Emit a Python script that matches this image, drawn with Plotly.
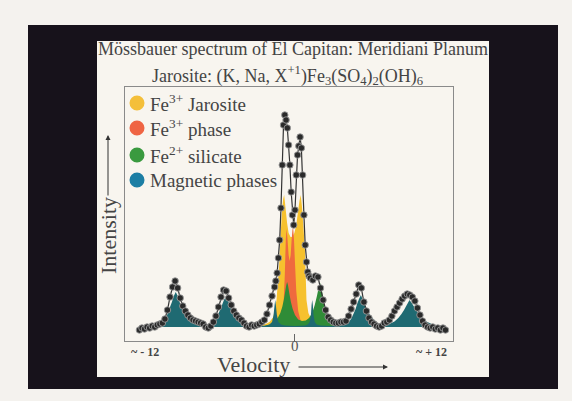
import plotly.graph_objects as go

# ---------------- data (velocity in mm/s, intensity in arbitrary units) -------------
vel = [-12.2, -12.0, -11.8, -11.6, -11.4, -11.2, -11.0, -10.8, -10.6, -10.4, -10.2, -10.0,
       -9.8, -9.6, -9.4, -9.2, -9.0, -8.8, -8.6, -8.4, -8.2, -8.0, -7.8, -7.6, -7.4, -7.2,
       -7.0, -6.8, -6.6, -6.4, -6.2, -6.0, -5.8, -5.6, -5.4, -5.2, -5.0, -4.8, -4.6, -4.4,
       -4.2, -4.0, -3.8, -3.6, -3.4, -3.2, -3.0, -2.8, -2.6, -2.4, -2.2, -2.0, -1.8, -1.6,
       -1.5, -1.4, -1.3, -1.2, -1.1, -1.0, -0.9, -0.8, -0.7, -0.6, -0.5, -0.4, -0.3, -0.2,
       -0.1, 0.0, 0.1, 0.2, 0.3, 0.4, 0.5, 0.6, 0.7, 0.8, 0.9, 1.0, 1.1, 1.2, 1.4, 1.6,
       1.8, 2.0, 2.2, 2.4, 2.6, 2.8, 3.0, 3.2, 3.4, 3.6, 3.8, 4.0, 4.2, 4.4, 4.6, 4.8,
       5.0, 5.2, 5.4, 5.6, 5.8, 6.0, 6.2, 6.4, 6.6, 6.8, 7.0, 7.2, 7.4, 7.6, 7.8, 8.0,
       8.2, 8.4, 8.6, 8.8, 9.0, 9.2, 9.4, 9.6, 9.8, 10.0, 10.2, 10.4, 10.6, 10.8, 11.0,
       11.2, 11.4, 11.6, 11.8]
counts = [-1.5, -0.5, -1.0, 0.0, -0.5, 0.5, 0.0, 1.0, 1.5, 2.0, 4.0, 8.5,
          15.0, 20.0, 23.0, 19.5, 14.5, 10.5, 8.0, 6.0, 4.5, 3.5, 3.0, 2.5, 2.0, 1.5,
          0.0, -0.5, 0.5, 2.5, 5.5, 10.0, 15.0, 18.5, 18.0, 14.5, 11.0, 8.0, 6.0, 4.5,
          3.5, 2.0, 0.5, 0.0, 1.0, 0.5, 1.0, 1.5, 2.5, 3.5, 6.5, 11.0, 15.5, 20.0,
          23.0, 27.0, 34.5, 43.5, 59.5, 81.0, 101.0, 106.0, 103.5, 99.5, 91.0, 81.0, 67.5, 56.0,
          51.0, 58.5, 76.0, 86.0, 90.5, 95.0, 89.5, 76.0, 56.0, 41.0, 32.5, 27.5, 25.5, 24.5, 23.5, 25.5,
          25.0, 19.5, 13.5, 8.5, 5.0, 3.5, 2.5, 2.0, 2.0, 2.5, 2.5, 3.0, 5.5, 9.0, 12.5, 16.5,
          21.0, 19.5, 12.5, 8.0, 4.5, 2.5, 1.5, 0.5, 0.0, 0.5, 2.0, 2.5, 3.5, 5.5, 8.0, 10.0,
          12.0, 14.0, 15.5, 16.5, 16.0, 15.0, 13.0, 9.5, 6.0, 3.0, 1.0, 0.0, -0.5, 0.0, -1.0,
          -0.5, -1.5, -0.5, -1.5]

# Fe3+ jarosite doublet
jar_x = [-3.5, -2.8, -2.3, -2.0, -1.7, -1.45, -1.25, -1.12, -1.02, -0.93, -0.85, -0.75, -0.62,
         -0.5, -0.35, -0.2, -0.05, 0.1, 0.22, 0.35, 0.45, 0.55, 0.66, 0.78, 0.9, 1.05, 1.3,
         1.7, 2.3, 3.2]
jar_y = [0.3, 0.8, 1.5, 2.5, 5.0, 13.5, 30.0, 47.0, 58.0, 64.0, 66.0, 60.0, 52.0,
         47.0, 45.0, 45.0, 47.0, 51.0, 57.0, 63.0, 66.0, 60.0, 50.0, 38.5, 13.5, 7.0, 3.5,
         2.0, 1.0, 0.4]

# Fe3+ phase doublet
ph3_x = [-1.4, -1.15, -1.0, -0.9, -0.8, -0.72, -0.66, -0.6, -0.5, -0.42, -0.34, -0.26, -0.2,
         -0.15, -0.08, 0.0, 0.1, 0.25, 0.45, 0.8, 1.1]
ph3_y = [0.4, 2.0, 5.0, 11.0, 26.0, 44.0, 49.0, 45.0, 36.0, 33.0, 36.0, 44.0, 48.5,
         50.0, 44.0, 32.0, 18.0, 8.0, 3.0, 1.0, 0.3]

# Fe2+ silicate doublet
sil_x = [-2.6, -2.2, -1.9, -1.6, -1.35, -1.15, -1.0, -0.88, -0.76, -0.68, -0.62, -0.55, -0.45,
         -0.32, -0.18, 0.0, 0.25, 0.55, 0.85, 1.1, 1.35, 1.55, 1.72, 1.85, 1.97, 2.08, 2.22,
         2.4, 2.6, 2.9, 3.3, 3.9, 4.6]
sil_y = [0.3, 0.8, 1.5, 2.8, 4.5, 7.0, 10.0, 13.5, 18.0, 21.0, 22.5, 21.0, 17.0,
         12.5, 9.0, 6.0, 3.8, 3.0, 3.2, 4.5, 7.0, 11.0, 15.5, 19.5, 22.0, 19.5, 14.0,
         8.0, 4.5, 2.3, 1.1, 0.5, 0.2]

# magnetic sextet(s)
mag_x = [-11.3, -10.8, -10.5, -10.3, -10.1, -9.95, -9.8, -9.65, -9.5, -9.35, -9.2, -9.05,
         -8.9, -8.7, -8.5, -8.2, -7.7, -7.2, -6.9, -6.6, -6.35, -6.17, -6.02, -5.87, -5.72,
         -5.57, -5.42, -5.27, -5.12, -4.97, -4.77, -4.57, -4.27, -3.8, -3.0, -2.4, -2.0, -1.8,
         -1.68, -1.6, -1.55, -1.5, -1.42, -1.3, -1.1, -0.8, 0.0, 0.8, 1.0, 1.15, 1.25, 1.3,
         1.35, 1.4, 1.45, 1.55, 1.7, 2.0, 2.8, 3.5, 3.9, 4.2, 4.42, 4.6, 4.75, 4.87, 5.02,
         5.17, 5.29, 5.44, 5.62, 5.82, 6.1, 6.6, 7.0, 7.4, 7.8, 8.1, 8.35, 8.55, 8.72, 8.85,
         8.98, 9.15, 9.35, 9.6, 9.9, 10.3, 10.8, 11.3, 11.7]
mag_y = [0.0, 0.5, 1.2, 2.5, 4.5, 7.5, 10.0, 12.5, 15.5, 17.5, 15.5, 12.5,
         10.0, 7.5, 4.5, 2.5, 1.2, 0.5, 0.5, 1.0, 2.2, 4.0, 6.5, 8.5, 11.0,
         13.5, 15.0, 13.5, 11.0, 8.5, 6.5, 4.0, 2.2, 1.0, 0.4, 0.6, 1.2, 2.5,
         6.0, 11.0, 13.5, 11.0, 6.0, 2.5, 1.2, 0.7, 0.5, 0.7, 1.2, 2.5, 6.0, 11.0,
         13.5, 11.0, 6.0, 2.5, 1.2, 0.7, 0.5, 0.6, 1.2, 2.3, 4.2, 6.8, 9.0, 11.5, 14.0,
         16.0, 14.0, 11.5, 9.0, 6.8, 4.2, 1.2, 0.8, 1.5, 2.8, 4.5, 6.5, 8.5, 10.5, 12.0,
         13.5, 12.0, 10.0, 7.5, 5.0, 2.8, 1.2, 0.4, 0.0]

legend_labels = ["Fe<sup>3+</sup> Jarosite", "Fe<sup>3+</sup> phase",
                 "Fe<sup>2+</sup> silicate", "Magnetic phases"]
legend_colors = ["#f4bf3a", "#ef6443", "#3a9a3f", "#1c7ea4"]

x_range = [-13.33, 12.39]
y_range = [-7.0, 120.0]

# ---------------- figure ----------------
SERIF = "Liberation Serif"
W, H = 572, 401
L, R, T, B = 125, 119, 87, 60
PW, PH = W - L - R, H - T - B


def px(xp):
    return (xp - L) / PW


def py(yp):
    return (H - B - yp) / PH


fig = go.Figure()

fill_specs = [
    (jar_x, jar_y, "#f6c12e", legend_labels[0]),
    (ph3_x, ph3_y, "#ef6a3e", legend_labels[1]),
    (sil_x, sil_y, "#2f8c37", legend_labels[2]),
    (mag_x, mag_y, "#1f6a72", legend_labels[3]),
]
for xs, ys, col, name in fill_specs:
    fig.add_trace(go.Scatter(x=xs, y=ys, mode="none", fill="tozeroy",
                             fillcolor=col, name=name, showlegend=False,
                             hoverinfo="skip"))

fig.add_trace(go.Scatter(
    x=vel, y=counts, mode="lines+markers", showlegend=False,
    line=dict(color="#333333", width=1.2),
    marker=dict(size=6.5, color="#2a2a2a", line=dict(color="#9a9a9a", width=0.9)),
))

shapes = [
    dict(type="rect", xref="paper", yref="paper", x0=px(28), x1=px(558), y0=py(389), y1=py(25),
         fillcolor="#17121b", line=dict(width=0), layer="below"),
    dict(type="rect", xref="paper", yref="paper", x0=px(97), x1=px(489), y0=py(377), y1=py(41),
         fillcolor="#f8f5ef", line=dict(width=0), layer="below"),
]
annotations = []

for i, (lab, col) in enumerate(zip(legend_labels, legend_colors)):
    yc = [103, 128, 155, 180][i]
    r = 7.5
    shapes.append(dict(type="circle", xref="paper", yref="paper",
                       x0=px(137 - r), x1=px(137 + r), y0=py(yc + r), y1=py(yc - r),
                       fillcolor=col, line=dict(width=0)))
    annotations.append(dict(xref="paper", yref="paper", x=px(148), y=py(yc), text=lab,
                            showarrow=False, xanchor="left", yanchor="middle",
                            font=dict(family=SERIF, size=19, color="#444444")))

annotations += [
    dict(xref="paper", yref="paper", x=px(293), y=py(49),
         text="Mössbauer spectrum of El Capitan: Meridiani Planum", showarrow=False,
         xanchor="center", yanchor="middle", font=dict(family=SERIF, size=18, color="#444444")),
    dict(xref="paper", yref="paper", x=px(287), y=py(75),
         text="Jarosite: (K, Na, X<sup>+1</sup>)Fe<sub>3</sub>(SO<sub>4</sub>)<sub>2</sub>(OH)<sub>6</sub>",
         showarrow=False, xanchor="center", yanchor="middle",
         font=dict(family=SERIF, size=18, color="#444444")),
    dict(xref="paper", yref="paper", x=px(108), y=py(236), text="Intensity", textangle=-90,
         showarrow=False, xanchor="center", yanchor="middle",
         font=dict(family=SERIF, size=22, color="#444444")),
    dict(xref="paper", yref="paper", x=px(108), y=py(135), ax=0, ay=62, text="",
         showarrow=True, arrowhead=2, arrowsize=1, arrowwidth=1, arrowcolor="#333333"),
    dict(xref="paper", yref="paper", x=px(253), y=py(364), text="Velocity",
         showarrow=False, xanchor="center", yanchor="middle",
         font=dict(family=SERIF, size=22, color="#444444")),
    dict(xref="paper", yref="paper", x=px(388), y=py(367), ax=-91, ay=0, text="",
         showarrow=True, arrowhead=2, arrowsize=1, arrowwidth=1, arrowcolor="#333333"),
    dict(xref="paper", yref="paper", x=px(145), y=py(352), text="<b>~ - 12</b>",
         showarrow=False, xanchor="center", yanchor="middle",
         font=dict(family=SERIF, size=12, color="#444444")),
    dict(xref="paper", yref="paper", x=px(431), y=py(352), text="<b>~ + 12</b>",
         showarrow=False, xanchor="center", yanchor="middle",
         font=dict(family=SERIF, size=12, color="#444444")),
    dict(xref="x", yref="paper", x=0, y=py(346), text="0",
         showarrow=False, xanchor="center", yanchor="middle",
         font=dict(family=SERIF, size=15, color="#555555")),
]

fig.update_layout(
    width=W, height=H,
    margin=dict(l=L, r=R, t=T, b=B, pad=0),
    paper_bgcolor="#f4f2ee",
    plot_bgcolor="rgba(0,0,0,0)",
    shapes=shapes,
    annotations=annotations,
    showlegend=False,
    xaxis=dict(range=x_range, showgrid=False, zeroline=False, showline=True, mirror=True,
               linecolor="#8a8a8a", linewidth=1.3, tickmode="array", tickvals=[0],
               ticktext=[""], ticks="inside", ticklen=7, tickcolor="#666666", tickwidth=1,
               fixedrange=True),
    yaxis=dict(range=y_range, showgrid=False, zeroline=False, showline=True, mirror=True,
               linecolor="#8a8a8a", linewidth=1.3, showticklabels=False, ticks="",
               fixedrange=True),
)

fig.write_html("out.html", config={"displayModeBar": False},
               post_script="document.body.style.margin='0';document.body.style.background='#f4f2ee';")
